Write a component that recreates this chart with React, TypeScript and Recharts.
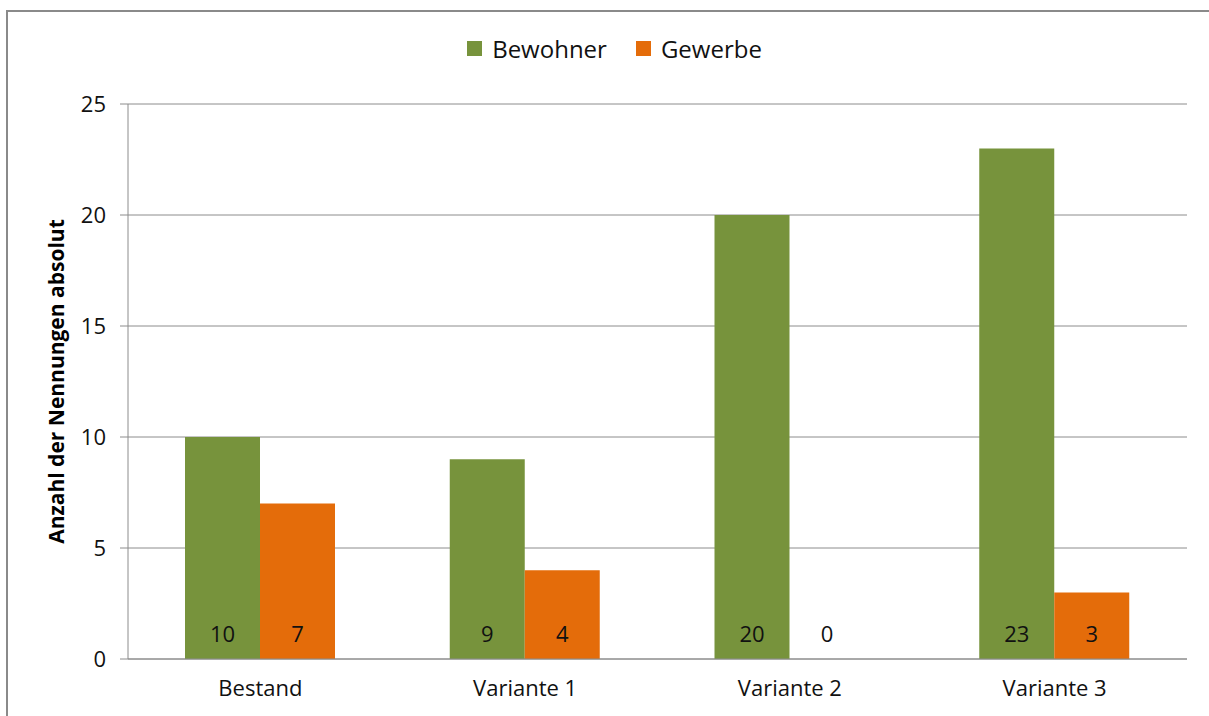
import React from 'react';
import { BarChart, Bar, XAxis, YAxis, CartesianGrid, LabelList } from 'recharts';

const categories = ['Bestand', 'Variante 1', 'Variante 2', 'Variante 3'];
const bewohner = [10, 9, 20, 23];
const gewerbe = [7, 4, 0, 3];
const yTicks = [0, 5, 10, 15, 20, 25];
const boundaryTicks = [0, 1, 2, 3, 4];
const seriesNames = ['Bewohner', 'Gewerbe'];
const colors = ['#77933C', '#E46C0A'];
const yTitle = 'Anzahl der Nennungen absolut';

const data = categories.map((c, i) => ({ name: c, bewohner: bewohner[i], gewerbe: gewerbe[i] }));

const FONT = '"Open Sans", sans-serif';
const GRID = '#8c8c8c';

const renderLabel = (props: any) => {
  const x = Number(props.x);
  const y = Number(props.y);
  const w = Number(props.width);
  const h = Number(props.height) || 0;
  return (
    <text key={`l-${x}`} x={x + w / 2} y={y + h - 17} textAnchor="middle" fontSize={22} fontFamily={FONT} fill="#111">
      {props.value}
    </text>
  );
};

const tinyForZero = (value: any) => (Number(value) === 0 ? 0.01 : 0);

export default function App() {
  return (
    <div style={{ position: 'absolute', left: 0, top: 0, width: 1209, height: 716, overflow: 'hidden', background: '#fff' }}>
      <div style={{ position: 'absolute', left: 6, top: 10, width: 1240, height: 740, border: '2px solid #8a8a8a', boxSizing: 'border-box' }} />
      <div style={{ position: 'absolute', left: 0, top: 32, width: 1209, display: 'flex', justifyContent: 'center', fontFamily: FONT, fontSize: 24, color: '#111' }}>
        {seriesNames.map((n, i) => (
          <div key={n} style={{ display: 'flex', alignItems: 'center', marginRight: i === 0 ? 29 : 0, marginLeft: i === 0 ? 20 : 0 }}>
            <div style={{ width: 15, height: 15, background: colors[i], marginRight: 10 }} />
            <span>{n}</span>
          </div>
        ))}
      </div>
      <div style={{ position: 'absolute', left: 0, top: 0 }}>
        <BarChart width={1209} height={716} data={data} margin={{ top: 104, right: 22, bottom: 0, left: 0 }} barGap={0} barSize={75}>
          <CartesianGrid vertical={false} stroke={GRID} strokeWidth={1} />
          <XAxis
            xAxisId="b"
            type="number"
            domain={[0, 4]}
            ticks={boundaryTicks}
            tick={false}
            axisLine={false}
            tickLine={{ stroke: GRID }}
            tickSize={8}
            height={0}
            allowDataOverflow
          />
          <XAxis
            dataKey="name"
            tickLine={false}
            tickSize={0}
            tickMargin={21}
            axisLine={{ stroke: GRID }}
            height={57}
            tick={{ fontSize: 22, fontFamily: FONT, fill: '#111' }}
          />
          <YAxis
            domain={[0, 25]}
            ticks={yTicks}
            width={128}
            tickSize={8}
            tickMargin={14}
            axisLine={{ stroke: GRID }}
            tickLine={{ stroke: GRID }}
            tick={{ fontSize: 22, fontFamily: FONT, fill: '#111' }}
            label={{ value: yTitle, angle: -90, position: 'center', dx: -7, style: { fontSize: 21, fontWeight: 700, fontFamily: FONT, fill: '#000', textAnchor: 'middle' } }}
          />
          <Bar dataKey="bewohner" fill={colors[0]} isAnimationActive={false}>
            <LabelList dataKey="bewohner" content={renderLabel} />
          </Bar>
          <Bar dataKey="gewerbe" fill={colors[1]} isAnimationActive={false} minPointSize={tinyForZero}>
            <LabelList dataKey="gewerbe" content={renderLabel} />
          </Bar>
        </BarChart>
      </div>
    </div>
  );
}
